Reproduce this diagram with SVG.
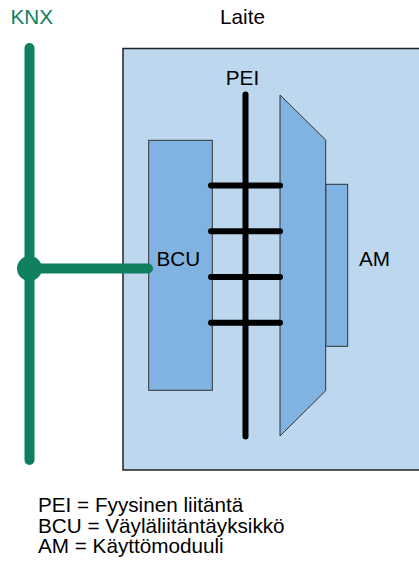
<svg xmlns="http://www.w3.org/2000/svg" width="419" height="567" viewBox="0 0 419 567">
<style>
text{font-family:"Liberation Sans",Arial,sans-serif;font-size:20.7px;fill:#000}
.knx{fill:#0e7f5f}
.box{fill:#80b3e1;stroke:#333;stroke-width:1}
.bus{stroke:#000;stroke-width:6;stroke-linecap:round;fill:none}
.green{stroke:#0e7f5f;stroke-width:10;stroke-linecap:round;fill:none}
</style>
<rect width="419" height="567" fill="#fff"/>
<g id="device">
<rect x="123" y="48.5" width="310" height="421.5" fill="#bdd7ee" stroke="#222" stroke-width="1.5"/>
<text x="242.5" y="24" text-anchor="middle">Laite</text>
</g>
<g id="bcu">
<rect class="box" x="148.7" y="140.3" width="63.6" height="250"/>
<text x="156.5" y="265.5">BCU</text>
</g>
<g id="am">
<rect class="box" x="325.7" y="184.3" width="22" height="162"/>
<polygon class="box" points="280,95 325.7,140 325.7,390.7 280,436"/>
<text x="359" y="265.5">AM</text>
</g>
<g id="pei">
<text x="242.5" y="85" text-anchor="middle">PEI</text>
</g>
<g id="connectors">
<line class="bus" x1="245.5" y1="94.5" x2="245.5" y2="436.5"/>
<line class="bus" x1="211" y1="185.5" x2="280" y2="185.5"/>
<line class="bus" x1="211" y1="231.3" x2="280" y2="231.3"/>
<line class="bus" x1="211" y1="277" x2="280" y2="277"/>
<line class="bus" x1="211" y1="322.7" x2="280" y2="322.7"/>
<line class="green" x1="29.5" y1="48" x2="29.5" y2="460"/>
<line class="green" x1="29.5" y1="268.5" x2="148" y2="268.5"/>
<circle cx="29.5" cy="268.5" r="12.5" fill="#0e7f5f"/>
</g>
<g id="knx">
<text class="knx" x="10.5" y="24">KNX</text>
</g>
<g id="legend">
<text x="38" y="512.3">PEI = Fyysinen liitäntä</text>
<text x="38" y="532.5">BCU = Väyläliitäntäyksikkö</text>
<text x="38" y="552.5">AM = Käyttömoduuli</text>
</g>
</svg>
